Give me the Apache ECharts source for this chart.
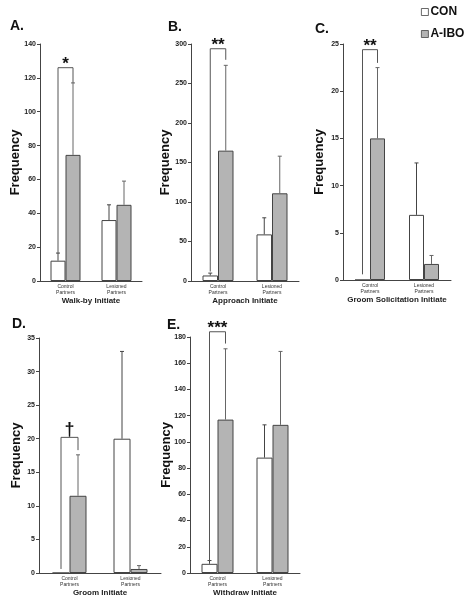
<!DOCTYPE html>
<html><head><meta charset="utf-8">
<script src="https://cdn.jsdelivr.net/npm/echarts@6.0.0/dist/echarts.min.js"></script>
<style>html,body{margin:0;padding:0;background:#fff}#c{width:469px;height:600px}</style>
</head><body><div id="c"></div>
<script>
// ---- data ----
const categories = ['Control\nPartners', 'Lesioned\nPartners'];
const seriesNames = ['CON', 'A-IBO'];
const panelLetters = ['A.', 'B.', 'C.', 'D.', 'E.'];
const panelTitles = ['Walk-by Initiate', 'Approach Initiate', 'Groom Solicitation Initiate', 'Groom Initiate', 'Withdraw Initiate'];
const yMax = [140, 300, 25, 35, 180];
const yStep = [20, 50, 5, 5, 20];
const conMean = [[12, 36], [7, 59], [0, 6.9], [0, 20], [7, 88]];
const conErrTop = [[16.5, 45], [10, 80], [0, 12.4], [0, 33], [9.5, 113]];
const iboMean = [[74.5, 45], [165, 111], [15, 1.7], [11.5, 0.6], [117, 113]];
const iboErrTop = [[117, 59], [273, 158], [22.5, 2.6], [17.6, 1.1], [171, 169]];
const sigLabel = ['*', '**', '**', '\u2020', '***'];
const bracketTop = [126, 294, 24.4, 20.2, 184];
const bracketLeftBase = [16.5, 12, 0.6, 0.6, 9.5];
const bracketRightBase = [117, 280, 23, 18.3, 175];

// ---- layout ----
const layout = [
  {left: 40, top: 44, width: 102, height: 237, barW: 15, lx: 10, ly: 19, ng: 18},
  {left: 191, top: 44, width: 108, height: 237, barW: 15.5, lx: 168, ly: 20, ng: 19},
  {left: 343, top: 44, width: 108, height: 236, barW: 15, lx: 315, ly: 22, ng: 17},
  {left: 39, top: 338, width: 122, height: 235, barW: 17, lx: 12, ly: 317, ng: 16},
  {left: 190, top: 337, width: 110, height: 236, barW: 16, lx: 167, ly: 318, ng: 17}
];
const FONT = 'Arial, "Liberation Sans", sans-serif';

function errRender(barW) {
  return function (params, api) {
    const cat = api.value(0), mean = api.value(1), top = api.value(2), side = api.value(3);
    if (!(top > mean)) return null;
    const p0 = api.coord([cat, mean]), p1 = api.coord([cat, top]);
    const x = p0[0] + side * barW / 2;
    const col = side < 0 ? '#444' : '#666';
    return {type: 'group', children: [
      {type: 'line', shape: {x1: x, y1: p0[1], x2: x, y2: p1[1]}, style: {stroke: col, lineWidth: 1}},
      {type: 'line', shape: {x1: x - 2, y1: p1[1], x2: x + 2, y2: p1[1]}, style: {stroke: col, lineWidth: 1}}
    ]};
  };
}
function bracketRender(barW, label) {
  return function (params, api) {
    const top = api.coord([0, api.value(1)]);
    const yl = api.coord([0, api.value(2)])[1];
    const yr = api.coord([0, api.value(3)])[1];
    const xl = top[0] - barW / 2, xr = top[0] + barW / 2;
    const isDagger = label === '\u2020';
    return {type: 'group', children: [
      {type: 'polyline', shape: {points: [[xl, yl], [xl, top[1]], [xr, top[1]], [xr, yr]]},
       style: {stroke: '#555', lineWidth: 1, fill: null}},
      {type: 'text', style: {text: label, x: top[0], y: isDagger ? top[1] + 2 : top[1] + 5,
        align: 'center', verticalAlign: 'bottom',
        font: (isDagger ? 'bold 18px ' : 'bold 17px ') + FONT, fill: '#111'}}
    ]};
  };
}

const grids = [], xAxes = [], yAxes = [], series = [], titles = [];
layout.forEach((L, i) => {
  grids.push({left: L.left, top: L.top, width: L.width, height: L.height});
  titles.push({text: panelLetters[i], left: L.lx, top: L.ly, padding: 0,
    textStyle: {fontSize: 14, fontWeight: 'bold', color: '#111', fontFamily: FONT}});
  xAxes.push({type: 'category', gridIndex: i, data: categories,
    name: panelTitles[i], nameLocation: 'middle', nameGap: 16, nameMoveOverlap: false,
    nameTextStyle: {fontSize: 8, fontWeight: 'bold', color: '#222', fontFamily: FONT},
    axisLine: {lineStyle: {color: '#444'}},
    axisTick: {length: 3, lineStyle: {color: '#444'}},
    axisLabel: {fontSize: 5, lineHeight: 6, margin: 3, color: '#333', interval: 0, fontFamily: FONT}});
  yAxes.push({type: 'value', gridIndex: i, min: 0, max: yMax[i], interval: yStep[i],
    name: 'Frequency', nameLocation: 'middle', nameGap: L.ng, nameMoveOverlap: false,
    nameTextStyle: {fontSize: 13, fontWeight: 'bold', color: '#111', fontFamily: FONT},
    axisLine: {show: true, lineStyle: {color: '#444'}},
    axisTick: {show: true, length: 3, lineStyle: {color: '#444'}},
    splitLine: {show: false},
    axisLabel: {fontSize: 7, fontWeight: 'bold', color: '#222', margin: 4, fontFamily: FONT}});
  series.push({type: 'bar', name: seriesNames[0], xAxisIndex: i, yAxisIndex: i, data: conMean[i],
    barWidth: L.barW, barGap: '0%', z: 2,
    itemStyle: {color: '#ffffff', borderColor: '#444', borderWidth: 1}});
  series.push({type: 'bar', name: seriesNames[1], xAxisIndex: i, yAxisIndex: i, data: iboMean[i],
    barWidth: L.barW, barGap: '0%', z: 2,
    itemStyle: {color: '#b4b4b4', borderColor: '#444', borderWidth: 1}});
  const errData = [
    [0, conMean[i][0], conErrTop[i][0], -1],
    [1, conMean[i][1], conErrTop[i][1], -1],
    [0, iboMean[i][0], iboErrTop[i][0], 1],
    [1, iboMean[i][1], iboErrTop[i][1], 1]
  ];
  series.push({type: 'custom', xAxisIndex: i, yAxisIndex: i, data: errData, z: 3,
    encode: {x: 0, y: 2}, renderItem: errRender(L.barW), silent: true});
  series.push({type: 'custom', xAxisIndex: i, yAxisIndex: i, z: 4,
    data: [[0, bracketTop[i], bracketLeftBase[i], bracketRightBase[i]]],
    encode: {x: 0, y: 1}, renderItem: bracketRender(L.barW, sigLabel[i]), silent: true});
});

const chart = echarts.init(document.getElementById('c'), null, {renderer: 'canvas'});
chart.setOption({
  animation: false,
  backgroundColor: '#fff',
  title: titles,
  legend: {data: seriesNames, orient: 'vertical', left: 421, top: 6, padding: 0,
    itemWidth: 7, itemHeight: 7, itemGap: 10, icon: 'rect',
    itemStyle: {borderWidth: 0.8},
    textStyle: {fontSize: 12, fontWeight: 'bold', color: '#111', fontFamily: FONT, padding: [0, 0, 0, -3]}},
  grid: grids, xAxis: xAxes, yAxis: yAxes, series: series
});
</script></body></html>
